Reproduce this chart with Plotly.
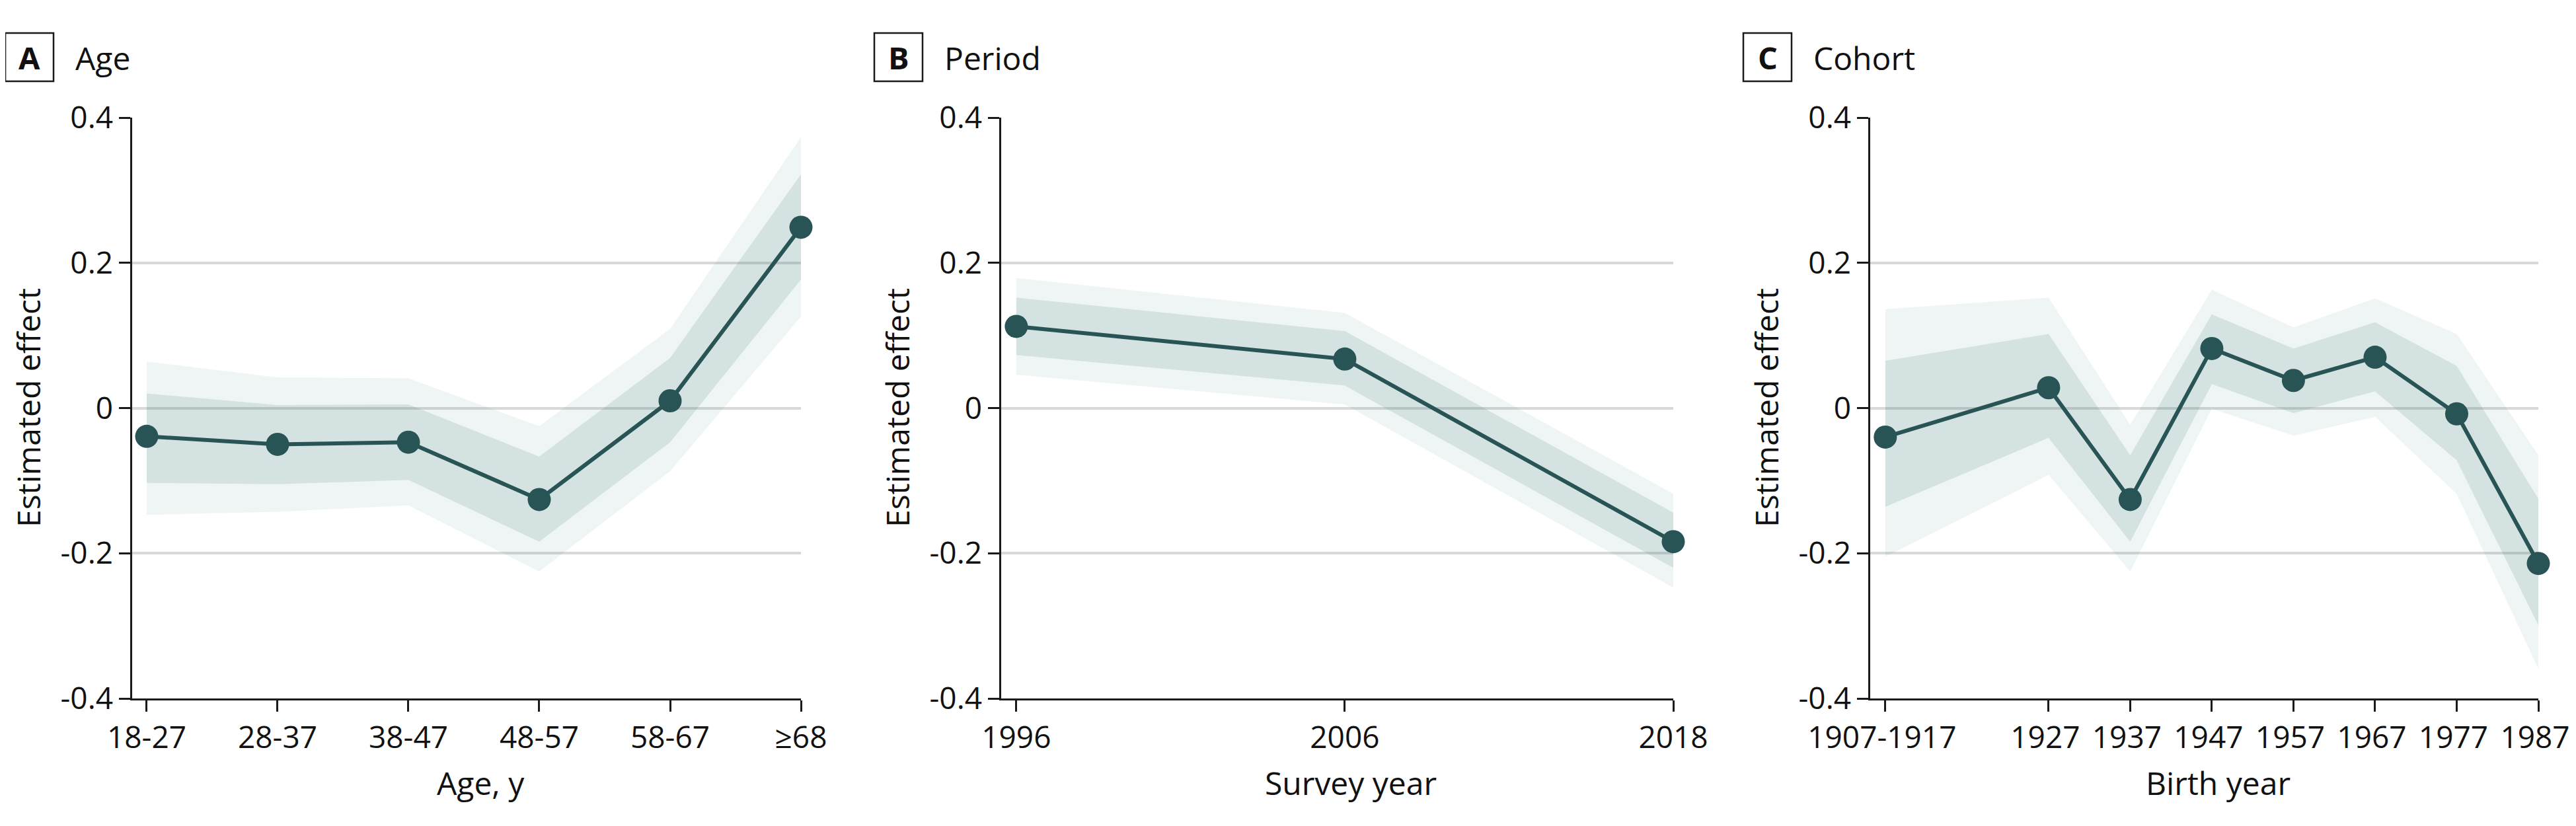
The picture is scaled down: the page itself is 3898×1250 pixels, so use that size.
import plotly.graph_objects as go

# The page body keeps its default 8px margin, so the figure is sized to fit the
# 3898x1250 window exactly and all positions below are given in window pixels.
SCREEN_W, SCREEN_H = 3898, 1250
OFF = 8
W, H = SCREEN_W - 2 * OFF, SCREEN_H - 2 * OFF
FONT = "Open Sans"
FS = 46
TEAL = "rgb(40,84,86)"
LIGHT = "rgba(42,110,110,0.075)"
DARK = "rgba(42,110,110,0.135)"

# ---- data ----
age_labels = ["18-27", "28-37", "38-47", "48-57", "58-67", "≥68"]
age_est = [-0.039, -0.050, -0.047, -0.126, 0.010, 0.249]
age_in_hi = [0.020, 0.004, 0.005, -0.067, 0.069, 0.322]
age_in_lo = [-0.103, -0.105, -0.099, -0.184, -0.047, 0.177]
age_out_hi = [0.064, 0.042, 0.041, -0.025, 0.109, 0.373]
age_out_lo = [-0.147, -0.143, -0.134, -0.225, -0.087, 0.126]

period_labels = ["1996", "2006", "2018"]
period_est = [0.1125, 0.0675, -0.184]
period_in_hi = [0.152, 0.106, -0.144]
period_in_lo = [0.073, 0.031, -0.220]
period_out_hi = [0.179, 0.131, -0.118]
period_out_lo = [0.046, 0.005, -0.247]

cohort_years = [1907, 1927, 1937, 1947, 1957, 1967, 1977, 1987]
cohort_labels = ["1907-1917", "1927", "1937", "1947", "1957", "1967", "1977", "1987"]
cohort_est = [-0.040, 0.028, -0.126, 0.082, 0.038, 0.070, -0.008, -0.214]
cohort_in_hi = [0.065, 0.102, -0.065, 0.129, 0.082, 0.118, 0.058, -0.125]
cohort_in_lo = [-0.136, -0.041, -0.184, 0.033, -0.007, 0.023, -0.072, -0.299]
cohort_out_hi = [0.136, 0.152, -0.023, 0.163, 0.111, 0.151, 0.102, -0.065]
cohort_out_lo = [-0.205, -0.092, -0.225, -0.001, -0.038, -0.012, -0.118, -0.359]

y_ticks = [-0.4, -0.2, 0, 0.2, 0.4]
y_ticktext = ["-0.4", "-0.2", "0", "0.2", "0.4"]

panels = [
    dict(letter="A", title="Age", xtitle="Age, y", x=list(range(len(age_labels))),
         ticktext=age_labels, est=age_est, ihi=age_in_hi, ilo=age_in_lo,
         ohi=age_out_hi, olo=age_out_lo, px0=200, px1=1212, rng=[-0.111, 5], shift=0),
    dict(letter="B", title="Period", xtitle="Survey year", x=list(range(len(period_labels))),
         ticktext=period_labels, est=period_est, ihi=period_in_hi, ilo=period_in_lo,
         ohi=period_out_hi, olo=period_out_lo, px0=1515, px1=2532, rng=[-0.046, 2], shift=0),
    dict(letter="C", title="Cohort", xtitle="Birth year", x=cohort_years,
         ticktext=cohort_labels, est=cohort_est, ihi=cohort_in_hi, ilo=cohort_in_lo,
         ohi=cohort_out_hi, olo=cohort_out_lo, px0=2830, px1=3841, rng=[1905.15, 1987],
         shift=-5),
]

TOP, BOT = 178, 1057  # window pixels of y = 0.4 and y = -0.4


def pxx(x):
    return (x - OFF) / W


def pyy(y):
    return (BOT - y) / (BOT - TOP)


fig = go.Figure()
annotations = []
shapes = []
layout = {}

for i, p in enumerate(panels):
    n = "" if i == 0 else str(i + 1)
    xa, ya = "x" + n, "y" + n
    common = dict(xaxis=xa, yaxis=ya, showlegend=False, hoverinfo="skip")
    fig.add_trace(go.Scatter(x=p["x"], y=p["ohi"], mode="lines", line=dict(width=0), **common))
    fig.add_trace(go.Scatter(x=p["x"], y=p["olo"], mode="lines", line=dict(width=0),
                             fill="tonexty", fillcolor=LIGHT, **common))
    fig.add_trace(go.Scatter(x=p["x"], y=p["ihi"], mode="lines", line=dict(width=0), **common))
    fig.add_trace(go.Scatter(x=p["x"], y=p["ilo"], mode="lines", line=dict(width=0),
                             fill="tonexty", fillcolor=DARK, **common))
    fig.add_trace(go.Scatter(x=p["x"], y=p["est"], mode="lines+markers",
                             line=dict(color=TEAL, width=6),
                             marker=dict(size=35, color=TEAL), cliponaxis=False, **common))

    axline = dict(showline=True, linecolor="#1a1a1a", linewidth=2.5, ticks="outside",
                  ticklen=17, tickwidth=2.5, tickcolor="#1a1a1a", zeroline=False,
                  automargin=False, ticklabeloverflow="allow",
                  tickfont=dict(family=FONT, size=FS, color="#111"))
    layout["xaxis" + n] = dict(domain=[pxx(p["px0"]), pxx(p["px1"])], range=p["rng"],
                               tickmode="array", tickvals=p["x"], ticktext=p["ticktext"],
                               ticklabelshift=p["shift"],
                               showgrid=False, anchor=ya, **axline)
    layout["yaxis" + n] = dict(domain=[0, 1], range=[-0.4, 0.4], tickmode="array",
                               tickvals=y_ticks, ticktext=y_ticktext, showgrid=True,
                               gridcolor="#d9d9d9", gridwidth=4, anchor=xa, **axline)

    # panel letter box
    bx0 = p["px0"] - 192
    shapes.append(dict(type="rect", xref="paper", yref="paper",
                       x0=pxx(bx0), x1=pxx(bx0 + 73), y0=pyy(123), y1=pyy(50),
                       line=dict(color="#1a1a1a", width=2.5), fillcolor="white"))
    annotations.append(dict(text="<b>" + p["letter"] + "</b>", xref="paper", yref="paper",
                            x=pxx(bx0 + 36.5), y=pyy(87), xanchor="center", yanchor="middle",
                            showarrow=False, font=dict(family=FONT, size=FS + 1, color="#111")))
    annotations.append(dict(text=p["title"], xref="paper", yref="paper",
                            x=pxx(bx0 + 104), y=pyy(87), xanchor="left", yanchor="middle",
                            showarrow=False, font=dict(family=FONT, size=FS + 2, color="#111")))
    # axis titles
    annotations.append(dict(text=p["xtitle"], xref="paper", yref="paper",
                            x=pxx((p["px0"] + p["px1"]) / 2 + 21), y=pyy(1184),
                            xanchor="center", yanchor="middle", showarrow=False,
                            font=dict(family=FONT, size=FS + 2, color="#111")))
    annotations.append(dict(text="Estimated effect", xref="paper", yref="paper",
                            x=pxx(p["px0"] - 158), y=pyy(617), xanchor="center",
                            yanchor="middle", textangle=-90, showarrow=False,
                            font=dict(family=FONT, size=FS + 2, color="#111")))

fig.update_layout(
    width=W, height=H, autosize=False,
    margin=dict(l=0, r=0, t=TOP - OFF, b=H - (BOT - OFF), pad=0, autoexpand=False),
    paper_bgcolor="white", plot_bgcolor="white",
    font=dict(family=FONT, size=FS, color="#111"),
    annotations=annotations, shapes=shapes,
    **layout,
)

fig.write_html("out.html")
